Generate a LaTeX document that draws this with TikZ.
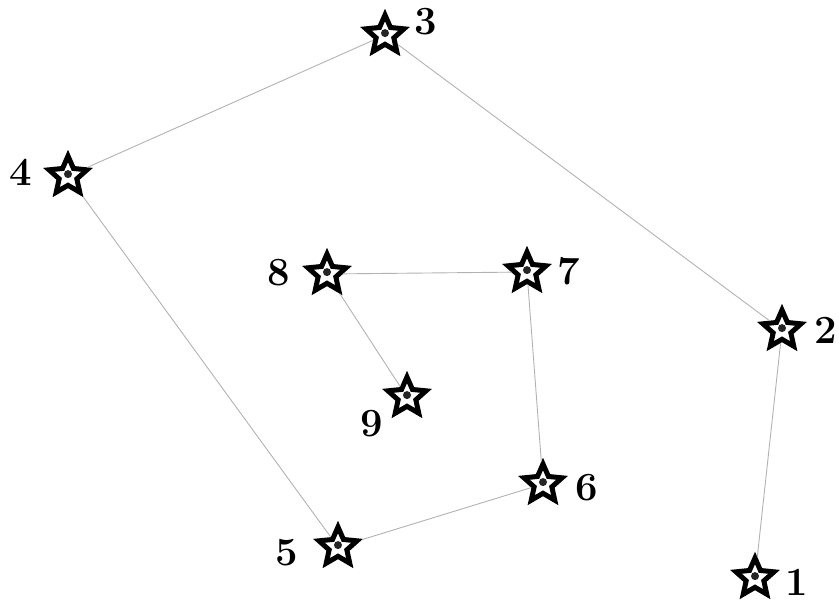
\documentclass[tikz,border=0pt]{standalone}
\usepackage{tikz}
\usetikzlibrary{shapes.geometric,positioning,calc}

\begin{document}
\begin{tikzpicture}[
    x=1pt, y=-1pt,
    site/.style={star, star points=5, star point ratio=2.15, minimum size=40pt,
                 inner sep=0pt, draw=black, line width=5pt, miter limit=3, fill=white,
                 path picture={\fill[black!85] (path picture bounding box.center) circle (4pt);}},
    lbl/.style={font=\fontsize{40}{44}\selectfont\bfseries, inner sep=0pt},
    link/.style={black!30, line width=0.9pt},
  ]
    \useasboundingbox (0,0) rectangle (839,605);

    % the nine sites
    \node[site] (s1) at (755,578) {};
    \node[site] (s2) at (782,330) {};
    \node[site] (s3) at (385,35)  {};
    \node[site] (s4) at (68,176)  {};
    \node[site] (s5) at (338,547) {};
    \node[site] (s6) at (543,484) {};
    \node[site] (s7) at (527,272) {};
    \node[site] (s8) at (327,274) {};
    \node[site] (s9) at (407,397) {};

    % labels
    \node[lbl] (l1) at (797,582) {1};
    \node[lbl] (l2) at (826,330) {2};
    \node[lbl] (l3) at (426,22)  {3};
    \node[lbl] (l4) at (21,172)  {4};
    \node[lbl] (l5) at (287,553) {5};
    \node[lbl] (l6) at (587,488) {6};
    \node[lbl] (l7) at (569,271) {7};
    \node[lbl] (l8) at (279,273) {8};
    \node[lbl] (l9) at (372,424) {9};

    % tour
    \draw[link] (s1) -- (s2);
    \draw[link] (s2) -- (s3);
    \draw[link] (s3) -- (s4);
    \draw[link] (s4) -- (s5);
    \draw[link] (s5) -- (s6);
    \draw[link] (s6) -- (s7);
    \draw[link] (s7) -- (s8);
    \draw[link] (s8) -- (s9);
\end{tikzpicture}
\end{document}
